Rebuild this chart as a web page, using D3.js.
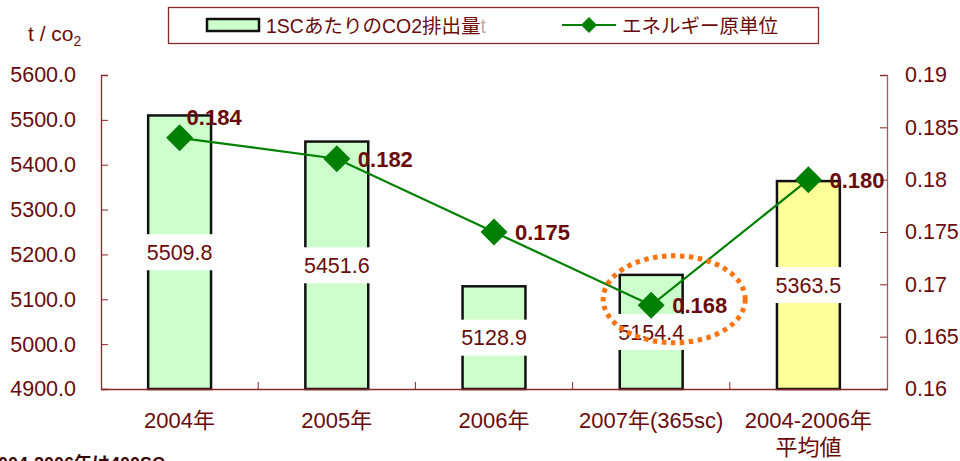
<!DOCTYPE html>
<html>
<head>
<meta charset="utf-8">
<script src="https://cdn.jsdelivr.net/npm/d3@7"></script>
<style>
  body { margin: 0; background: #fff; }
  svg { display: block; font-family: "Liberation Sans", Arial, "Noto Sans CJK JP", sans-serif; }
</style>
</head>
<body>
<div id="chart"></div>
<script>
// data
const categories = ['2004年', '2005年', '2006年', '2007年(365sc)', '2004-2006年\n平均値'];
const co2PerSC = [5509.8, 5451.6, 5128.9, 5154.4, 5363.5];
const energyUnit = [0.184, 0.182, 0.175, 0.168, 0.180];
const leftTicks = [4900, 5000, 5100, 5200, 5300, 5400, 5500, 5600];
const rightTicks = [0.16, 0.165, 0.17, 0.175, 0.18, 0.185, 0.19];
const legendLabels = ['1SCあたりのCO2排出量', 'エネルギー原単位'];

const width = 960, height = 461;
const margin = { top: 75, right: 73, bottom: 72, left: 101 };
const textColor = '#6b0a0a';
const axisColor = '#862828';

const svg = d3.select('#chart')
  .append('svg')
  .attr('width', width)
  .attr('height', height);

const x = d3.scaleBand()
  .domain(categories)
  .range([margin.left, width - margin.right]);
const yLeft = d3.scaleLinear()
  .domain([4900, 5600])
  .range([height - margin.bottom, margin.top]);
const yRight = d3.scaleLinear()
  .domain([0.16, 0.19])
  .range([height - margin.bottom, margin.top]);

const barW = x.bandwidth() * 0.4;
const cx = c => x(c) + x.bandwidth() / 2;

// bars
svg.append('g')
  .selectAll('rect')
  .data(co2PerSC)
  .join('rect')
  .attr('x', (d, i) => cx(categories[i]) - barW / 2)
  .attr('y', d => yLeft(d))
  .attr('width', barW)
  .attr('height', d => yLeft(4900) - yLeft(d))
  .attr('fill', (d, i) => i === co2PerSC.length - 1 ? '#ffff99' : '#ccffcc')
  .attr('stroke', '#111')
  .attr('stroke-width', 2.5);

// bar value labels, white boxes in the middle of each bar
const barLabels = svg.append('g')
  .selectAll('g')
  .data(co2PerSC)
  .join('g')
  .attr('transform', (d, i) =>
    `translate(${cx(categories[i])},${(yLeft(d) + yLeft(4900)) / 2})`);
barLabels.append('rect')
  .attr('x', -37).attr('y', -18)
  .attr('width', 74).attr('height', 36)
  .attr('fill', '#fff');
barLabels.append('text')
  .attr('text-anchor', 'middle')
  .attr('dy', '0.36em')
  .attr('font-size', 21.5)
  .attr('fill', textColor)
  .text(d => d.toFixed(1));

// axes
const axL = svg.append('g')
  .attr('transform', `translate(${margin.left},0)`)
  .call(d3.axisRight(yLeft).tickValues(leftTicks).tickSize(7).tickFormat(d3.format('.1f')));
axL.selectAll('text')
  .attr('x', -25).attr('text-anchor', 'end');

const axR = svg.append('g')
  .attr('transform', `translate(${width - margin.right},0)`)
  .call(d3.axisLeft(yRight).tickValues(rightTicks).tickSize(7).tickFormat(d => String(+d.toFixed(3))));
axR.selectAll('text')
  .attr('x', 18).attr('text-anchor', 'start');

const axB = svg.append('g')
  .attr('transform', `translate(0,${height - margin.bottom})`)
  .call(d3.axisTop(x).tickSize(0).tickFormat(''));
// category boundary ticks
axB.selectAll('.tick').remove();
axB.selectAll('line.sep')
  .data(categories.slice(1))
  .join('line')
  .attr('class', 'sep')
  .attr('x1', d => x(d)).attr('x2', d => x(d))
  .attr('y1', 0).attr('y2', -7)
  .attr('stroke', axisColor);

[axL, axR, axB].forEach(a => {
  a.selectAll('path').attr('stroke', axisColor).attr('stroke-width', 1.3);
  a.selectAll('line').attr('stroke', axisColor);
  a.selectAll('text')
    .attr('font-size', 21.5)
    .attr('fill', textColor)
    .attr('font-family', '"Liberation Sans", Arial, sans-serif');
});
axR.select('path').attr('stroke', '#a05a5a');

// category labels
svg.append('g')
  .selectAll('text')
  .data(categories)
  .join('text')
  .attr('x', d => cx(d))
  .attr('y', height - margin.bottom + 39)
  .attr('text-anchor', 'middle')
  .attr('font-size', 22)
  .attr('fill', textColor)
  .selectAll('tspan')
  .data(d => d.split('\n'))
  .join('tspan')
  .attr('x', function () { return this.parentNode.getAttribute('x'); })
  .attr('dy', (d, i) => i ? 27 : 0)
  .text(d => d);

// line
const line = d3.line()
  .x((d, i) => cx(categories[i]))
  .y(d => yRight(d));
svg.append('path')
  .datum(energyUnit)
  .attr('d', line)
  .attr('fill', 'none')
  .attr('stroke', '#008000')
  .attr('stroke-width', 2.2);

const diamond = r => `M0,${-r}L${r},0L0,${r}L${-r},0Z`;
svg.append('g')
  .selectAll('path')
  .data(energyUnit)
  .join('path')
  .attr('transform', (d, i) => `translate(${cx(categories[i])},${yRight(d)})`)
  .attr('d', diamond(13.5))
  .attr('fill', '#008000');

// line value labels; the first one sits above its marker
svg.append('g')
  .selectAll('text')
  .data(energyUnit)
  .join('text')
  .attr('x', (d, i) => cx(categories[i]) + (i === 0 ? 7 : 21))
  .attr('y', (d, i) => yRight(d) + (i === 0 ? -13 : 8))
  .attr('font-size', 22)
  .attr('font-weight', 'bold')
  .attr('fill', textColor)
  .text(d => d.toFixed(3));

// dotted ellipse around the 2007 point
svg.append('ellipse')
  .attr('cx', cx(categories[3]) + 23)
  .attr('cy', yRight(energyUnit[3]) - 6)
  .attr('rx', 71)
  .attr('ry', 43.5)
  .attr('fill', 'none')
  .attr('stroke', '#ff7410')
  .attr('stroke-width', 5)
  .attr('stroke-dasharray', '4.5,4.5');

// y title
const yt = svg.append('text')
  .attr('x', 28).attr('y', 41)
  .attr('font-size', 21)
  .attr('fill', textColor);
yt.append('tspan').text('t / co');
yt.append('tspan').attr('font-size', 14).attr('dy', 5).text('2');

// legend
const lg = svg.append('g');
lg.append('rect')
  .attr('x', 168.5).attr('y', 7.5)
  .attr('width', 650).attr('height', 36)
  .attr('fill', '#fff')
  .attr('stroke', axisColor)
  .attr('stroke-width', 1.3);
lg.append('rect')
  .attr('x', 207).attr('y', 19)
  .attr('width', 52).attr('height', 12)
  .attr('fill', '#ccffcc')
  .attr('stroke', '#111')
  .attr('stroke-width', 2.5);
const lt = lg.append('text')
  .attr('x', 266).attr('y', 33)
  .attr('font-size', 19.5)
  .attr('fill', textColor)
  .text(legendLabels[0]);
lt.append('tspan').attr('fill', '#c9a6a6').attr('font-weight', 300).text('t');
lg.append('line')
  .attr('x1', 562).attr('x2', 616)
  .attr('y1', 25).attr('y2', 25)
  .attr('stroke', '#008000')
  .attr('stroke-width', 2.2);
lg.append('path')
  .attr('transform', 'translate(589,25)')
  .attr('d', diamond(8))
  .attr('fill', '#008000');
lg.append('text')
  .attr('x', 622).attr('y', 33)
  .attr('font-size', 19.5)
  .attr('fill', textColor)
  .text(legendLabels[1]);

// footnote, cut off by the bottom edge as in the source
svg.append('text')
  .attr('x', -12).attr('y', 470)
  .attr('font-size', 18)
  .attr('font-weight', 'bold')
  .attr('fill', '#3a0505')
  .text('2004-2006年は400SC');
</script>
</body>
</html>
